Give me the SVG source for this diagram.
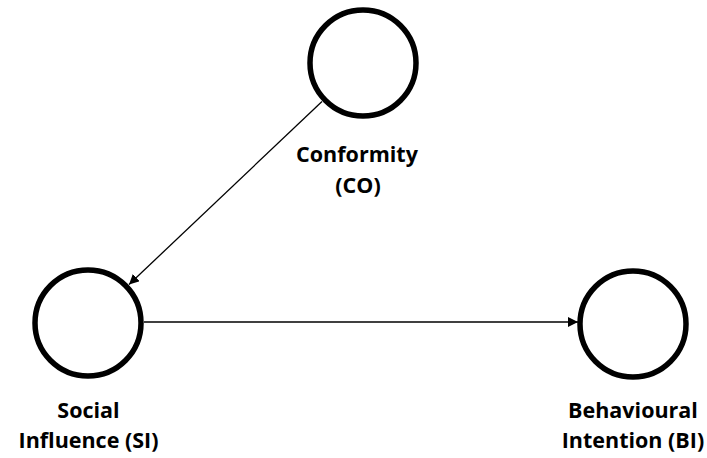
<svg xmlns="http://www.w3.org/2000/svg" width="707" height="458" viewBox="0 0 707 458">
  <style>
    .node { fill: #ffffff; stroke: #000000; stroke-width: 5.5; }
    .label { font-family: "Open Sans", "Noto Sans", sans-serif; font-weight: bold; font-size: 21.5px; fill: #000000; text-anchor: middle; }
    .edge { stroke: #000000; stroke-width: 1.3; fill: none; }
  </style>
  <defs>
    <marker id="arrow" viewBox="0 0 10 10" refX="10" refY="5" markerWidth="10" markerHeight="10" markerUnits="userSpaceOnUse" orient="auto">
      <path d="M0,0 L10,5 L0,10 Z" fill="#000000"/>
    </marker>
  </defs>
  <rect width="707" height="458" fill="#ffffff"/>

  <g id="connectors">
    <line class="edge" x1="322" y1="101.5" x2="129" y2="284.5" marker-end="url(#arrow)"/>
    <line class="edge" x1="144" y1="322" x2="578" y2="322" marker-end="url(#arrow)"/>
  </g>

  <g id="node-co">
    <circle class="node" cx="363" cy="63" r="53"/>
    <text class="label" x="357" y="162">Conformity</text>
    <text class="label" x="358" y="193">(CO)</text>
  </g>

  <g id="node-si">
    <circle class="node" cx="88" cy="323" r="53"/>
    <text class="label" x="88.5" y="418">Social</text>
    <text class="label" x="88.5" y="448">Influence (SI)</text>
  </g>

  <g id="node-bi">
    <circle class="node" cx="633" cy="324" r="53"/>
    <text class="label" x="633" y="418">Behavioural</text>
    <text class="label" x="633" y="448">Intention (BI)</text>
  </g>
</svg>
